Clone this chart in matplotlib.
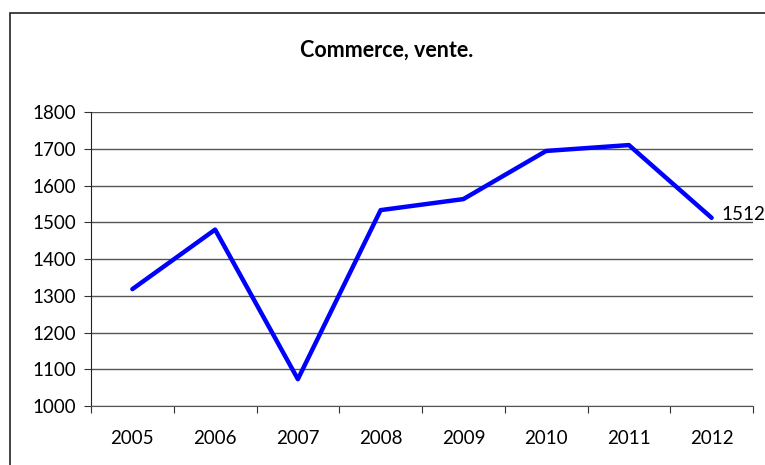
import matplotlib.pyplot as plt
from matplotlib.patches import Rectangle
import numpy as np

plt.rcParams['font.family'] = ['Lato', 'DejaVu Sans']

# données
annees = ['2005', '2006', '2007', '2008', '2009', '2010', '2011', '2012']
ventes = [1318, 1480, 1073, 1533, 1563, 1694, 1710, 1512]

fig = plt.figure(figsize=(7.65, 4.65), dpi=100)

# cadre du graphique (coupé à droite et en bas)
fig.patches.append(Rectangle((9.5 / 765, -0.1), 1.2, 1 - 13.5 / 465 + 0.1,
                             transform=fig.transFigure, fill=False,
                             edgecolor='#222222', linewidth=1.2))

ax = fig.add_axes([91 / 765, 59 / 465, 662 / 765, 294 / 465])
x = np.arange(len(annees))
ax.plot(x, ventes, color='#0000ff', linewidth=3.2, solid_capstyle='round')
ax.text(x[-1] + 0.12, ventes[-1] + 8, str(ventes[-1]), va='center', ha='left', fontsize=13.5)

ax.set_xlim(-0.5, len(annees) - 0.5)
ax.set_ylim(1000, 1800)
ax.set_yticks(range(1000, 1801, 100))
ax.yaxis.grid(True, color='#555555', linewidth=1)
ax.set_axisbelow(True)

ax.set_xticks(np.arange(-0.5, len(annees), 1))
ax.set_xticklabels([])
ax.set_xticks(x, minor=True)
ax.set_xticklabels(annees, minor=True)
ax.tick_params(axis='x', which='minor', length=0, labelsize=13.5, pad=17)
ax.tick_params(axis='x', which='major', length=5, direction='out', color='#333333')
ax.tick_params(axis='y', length=5, direction='out', labelsize=13.5, color='#333333', pad=6)

for s in ['top', 'right']:
    ax.spines[s].set_visible(False)
ax.spines['left'].set_color('#222222')
ax.spines['bottom'].set_color('#555555')

fig.text(0.505, 1 - 50 / 465, 'Commerce, vente.', ha='center', va='center',
         fontsize=15.5, fontweight='bold')

fig.savefig('out.png', dpi=100)
